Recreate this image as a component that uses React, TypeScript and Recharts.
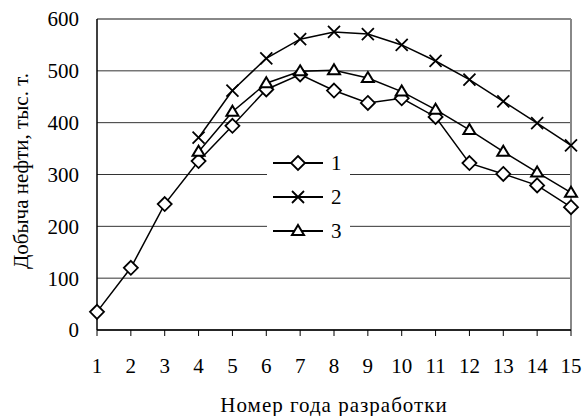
import React from 'react';
import { LineChart, Line, XAxis, YAxis, CartesianGrid, ReferenceLine, Legend, Label } from 'recharts';

const years = [1, 2, 3, 4, 5, 6, 7, 8, 9, 10, 11, 12, 13, 14, 15];
const series1 = [35, 120, 243, 326, 394, 464, 493, 462, 438, 447, 411, 322, 301, 279, 237];
const series2 = [null, null, null, 371, 462, 524, 561, 575, 571, 550, 519, 483, 441, 399, 356];
const series3 = [null, null, null, 344, 421, 476, 499, 501, 486, 460, 425, 386, 344, 304, 265];
const yTicks = [0, 100, 200, 300, 400, 500, 600];
const seriesNames = ['1', '2', '3'];
const xTitle = 'Номер года разработки';
const yTitle = 'Добыча нефти, тыс. т.';

const data = years.map((y, i) => ({ year: y, s1: series1[i], s2: series2[i], s3: series3[i] }));

const FONT = "'Liberation Serif', 'Times New Roman', serif";
const FS = 21;

type MarkerKind = 'diamond' | 'cross' | 'triangle';

const Marker = ({ kind, cx, cy }: { kind: MarkerKind; cx: number; cy: number }) => {
  if (kind === 'diamond') {
    const r = 7;
    return (
      <path
        d={`M${cx},${cy - r} L${cx + r},${cy} L${cx},${cy + r} L${cx - r},${cy} Z`}
        fill="#fff"
        stroke="#000"
        strokeWidth={1.8}
      />
    );
  }
  if (kind === 'cross') {
    const r = 6;
    return (
      <path
        d={`M${cx - r},${cy - r} L${cx + r},${cy + r} M${cx - r},${cy + r} L${cx + r},${cy - r}`}
        stroke="#000"
        strokeWidth={1.8}
        fill="none"
      />
    );
  }
  const w = 6;
  const h = 10;
  return (
    <path
      d={`M${cx},${cy - h * 0.6} L${cx + w},${cy + h * 0.4} L${cx - w},${cy + h * 0.4} Z`}
      fill="#fff"
      stroke="#000"
      strokeWidth={2}
    />
  );
};

const makeDot = (kind: MarkerKind) => (props: any) => {
  const { cx, cy, index } = props;
  if (cx == null || cy == null || props.value == null || (Array.isArray(props.value) && props.value[1] == null)) {
    return <g key={`${kind}-${index}`} />;
  }
  return (
    <g key={`${kind}-${index}`}>
      <Marker kind={kind} cx={cx} cy={cy} />
    </g>
  );
};

const kinds: MarkerKind[] = ['diamond', 'cross', 'triangle'];

const LegendContent = () => (
  <svg width={83} height={105}>
    {seriesNames.map((name, i) => {
      const cy = 18 + i * 34;
      return (
        <g key={name}>
          <line x1={6} x2={56} y1={cy} y2={cy} stroke="#000" strokeWidth={1.8} />
          <Marker kind={kinds[i]} cx={31} cy={cy} />
          <text x={64} y={cy} dy="0.35em" fontFamily={FONT} fontSize={FS} fill="#000">
            {name}
          </text>
        </g>
      );
    })}
  </svg>
);

export default function App() {
  return (
    <div style={{ position: 'absolute', left: 0, top: 0, width: 584, height: 416, background: '#fff' }}>
      <LineChart width={584} height={416} data={data} margin={{ top: 19, right: 13, left: 0, bottom: 0 }}>
        <CartesianGrid vertical={false} stroke="#333" strokeWidth={1} />
        <ReferenceLine y={600} stroke="#888" strokeWidth={2} />
        <ReferenceLine x={15} stroke="#888" strokeWidth={2} />
        <XAxis
          dataKey="year"
          type="number"
          domain={[1, 15]}
          ticks={years}
          interval={0}
          height={86}
          axisLine={{ stroke: '#000', strokeWidth: 1.5 }}
          tickLine={{ stroke: '#000', strokeWidth: 1 }}
          tickSize={6}
          tickMargin={22}
          tick={{ fill: '#000', fontFamily: FONT, fontSize: FS }}
        >
          <Label
            value={xTitle}
            position="insideBottom"
            offset={4}
            style={{ fill: '#000', fontFamily: FONT, fontSize: FS, letterSpacing: 1 }}
          />
        </XAxis>
        <YAxis
          type="number"
          domain={[0, 600]}
          ticks={yTicks}
          interval={0}
          width={97}
          axisLine={{ stroke: '#000', strokeWidth: 1.5 }}
          tickLine={false}
          tickSize={0}
          tickMargin={18}
          tick={{ fill: '#000', fontFamily: FONT, fontSize: FS }}
        >
          <Label
            content={() => (
              <text
                x={21}
                y={171}
                transform="rotate(-90 21 171)"
                textAnchor="middle"
                dominantBaseline="central"
                fontFamily={FONT}
                fontSize={FS}
                fill="#000"
              >
                {yTitle}
              </text>
            )}
          />
        </YAxis>
        <Legend
          layout="vertical"
          align="center"
          verticalAlign="middle"
          content={() => <LegendContent />}
          wrapperStyle={{ position: 'absolute', left: 267, top: 145, width: 83, height: 105, background: '#fff' }}
        />
        <Line type="linear" dataKey="s1" name={seriesNames[0]} stroke="#000" strokeWidth={1.5} dot={makeDot('diamond')} isAnimationActive={false} />
        <Line type="linear" dataKey="s2" name={seriesNames[1]} stroke="#000" strokeWidth={1.5} dot={makeDot('cross')} isAnimationActive={false} />
        <Line type="linear" dataKey="s3" name={seriesNames[2]} stroke="#000" strokeWidth={1.5} dot={makeDot('triangle')} isAnimationActive={false} />
      </LineChart>
    </div>
  );
}
